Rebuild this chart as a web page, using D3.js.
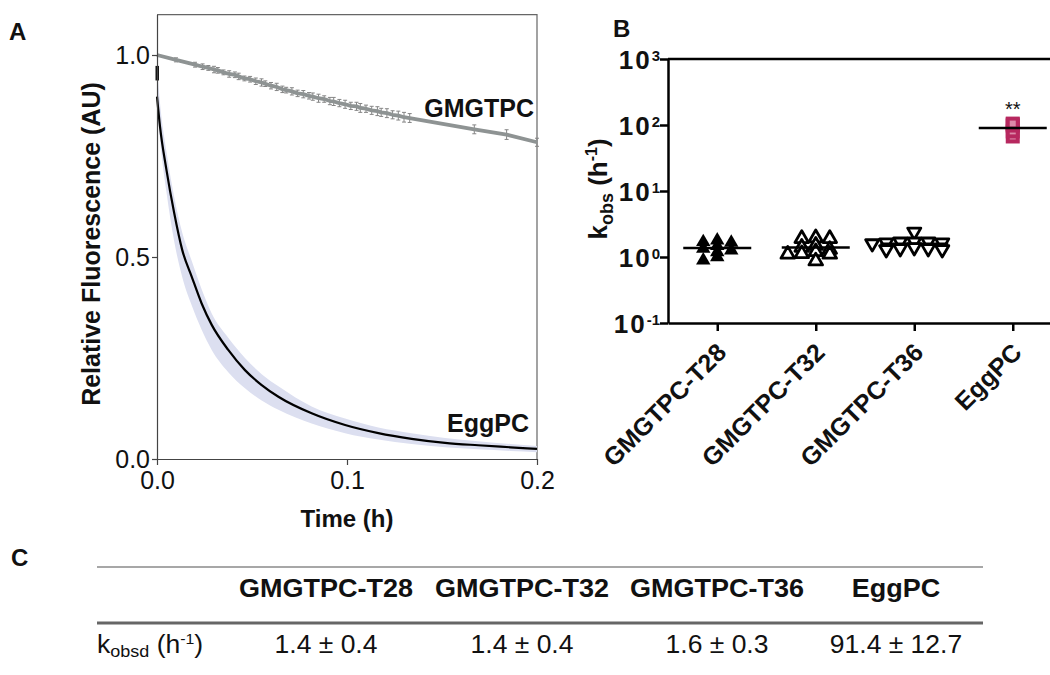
<!DOCTYPE html>
<html><head><meta charset="utf-8">
<script src="https://cdn.jsdelivr.net/npm/d3@7"></script>
<style>
body{margin:0;background:#fff;}
svg text{font-family:"Liberation Sans", Arial, Helvetica, sans-serif;fill:#111;}
</style></head><body>
<svg id="chart" width="1050" height="675"></svg>
<script>
// ---------- Panel A data ----------
const gmgTime  = [0, 0.010, 0.020, 0.024, 0.027, 0.030, 0.032, 0.035, 0.038, 0.041, 0.043, 0.046, 0.049, 0.052, 0.055, 0.057, 0.060, 0.063, 0.066, 0.068, 0.071, 0.074, 0.077, 0.080, 0.082, 0.085, 0.088, 0.091, 0.093, 0.096, 0.099, 0.102, 0.105, 0.107, 0.110, 0.113, 0.116, 0.118, 0.121, 0.124, 0.127, 0.130, 0.133, 0.167, 0.184, 0.200];
const gmgValue = [1.000, 0.988, 0.976, 0.971, 0.968, 0.964, 0.962, 0.957, 0.953, 0.951, 0.947, 0.942, 0.940, 0.935, 0.932, 0.929, 0.924, 0.921, 0.915, 0.913, 0.910, 0.905, 0.903, 0.899, 0.897, 0.893, 0.891, 0.886, 0.885, 0.881, 0.878, 0.874, 0.873, 0.869, 0.867, 0.863, 0.861, 0.858, 0.856, 0.852, 0.850, 0.846, 0.844, 0.816, 0.803, 0.784];
const gmgError = [0, 0.005, 0.006, 0.007, 0.006, 0.008, 0.007, 0.006, 0.008, 0.007, 0.008, 0.006, 0.007, 0.008, 0.009, 0.007, 0.008, 0.009, 0.008, 0.007, 0.009, 0.008, 0.009, 0.008, 0.009, 0.010, 0.008, 0.009, 0.010, 0.009, 0.010, 0.009, 0.010, 0.011, 0.009, 0.010, 0.011, 0.010, 0.011, 0.010, 0.011, 0.012, 0.011, 0.011, 0.012, 0.010];

const eggTime  = [0, 0.0016, 0.0050, 0.0090, 0.0133, 0.0183, 0.0235, 0.0288, 0.0375, 0.0463, 0.0551, 0.0639, 0.0814, 0.0990, 0.1165, 0.1340, 0.1516, 0.1690, 0.1860, 0.2000];
const eggValue = [0.897, 0.822, 0.715, 0.610, 0.517, 0.451, 0.385, 0.332, 0.270, 0.220, 0.183, 0.154, 0.113, 0.084, 0.064, 0.050, 0.040, 0.034, 0.029, 0.025];
const eggLower = [0.880, 0.790, 0.660, 0.540, 0.450, 0.380, 0.320, 0.270, 0.215, 0.175, 0.145, 0.122, 0.088, 0.064, 0.048, 0.037, 0.029, 0.024, 0.020, 0.017];
const eggUpper = [0.970, 0.880, 0.760, 0.650, 0.560, 0.490, 0.420, 0.360, 0.300, 0.250, 0.210, 0.180, 0.130, 0.100, 0.078, 0.064, 0.052, 0.044, 0.037, 0.032];
const eggStartValue = [0.955];
const eggStartError = [0.018];

const aXTicks = [0, 0.1, 0.2];
const aYTicks = [0, 0.5, 1.0];

// ---------- Panel B data ----------
const categories = ["GMGTPC-T28", "GMGTPC-T32", "GMGTPC-T36", "EggPC"];
const kT28 = [1.69, 1.65, 1.79, 1.47, 1.19, 0.89, 1.00, 1.26, 1.34];
const kT32 = [1.90, 1.90, 1.95, 1.10, 1.12, 1.10, 0.87, 1.40, 1.30, 1.50, 1.20];
const kT36 = [2.40, 1.70, 1.65, 1.60, 1.70, 1.65, 1.70, 1.35, 1.30, 1.35, 1.30, 1.40];
const kEgg = [105, 102, 98, 80, 67];
const bYTicks = [0.1, 1, 10, 100, 1000];
const bYExponents = ["-1", "0", "1", "2", "3"];
const significance = ["", "", "", "**"];

// ---------- Panel C data ----------
const tableMeans = ["1.4", "1.4", "1.6", "91.4"];
const tableSDs = ["0.4", "0.4", "0.3", "12.7"];

// =====================================================
const svg = d3.select("#chart");

function panelLabel(t, x, y) {
  svg.append("text").attr("x", x).attr("y", y).attr("font-size", 24).attr("font-weight", "bold").text(t);
}
panelLabel("A", 9, 40);
panelLabel("B", 613, 37);
panelLabel("C", 11, 566);

// ---------- Panel A ----------
const ax = d3.scaleLinear().domain([0, 0.2]).range([157, 537]);
const ay = d3.scaleLinear().domain([0, 1.1]).range([459, 14.6]);
const gA = svg.append("g");

gA.append("path")
  .attr("d", `M${ax(0)},${ay(1.1)}H${ax(0.2)}V${ay(0)}`)
  .attr("fill", "none").attr("stroke", "#666").attr("stroke-width", 1.2);

const eggRows = eggTime.map((t, i) => ({t, v: eggValue[i], lo: eggLower[i], hi: eggUpper[i]}));
gA.append("path").datum(eggRows)
  .attr("d", d3.area().x(d => ax(d.t)).y0(d => ay(d.lo)).y1(d => ay(d.hi)).curve(d3.curveMonotoneX))
  .attr("fill", "#dcdff0");
gA.append("path").datum(eggRows)
  .attr("d", d3.line().x(d => ax(d.t)).y(d => ay(d.v)).curve(d3.curveMonotoneX))
  .attr("fill", "none").attr("stroke", "#000").attr("stroke-width", 2.2);

eggStartValue.forEach((v, i) => {
  gA.append("rect")
    .attr("x", ax(0) - 1.5).attr("width", 3.5)
    .attr("y", ay(v + eggStartError[i])).attr("height", ay(v - eggStartError[i]) - ay(v + eggStartError[i]))
    .attr("fill", "#111");
});

const gmgRows = gmgTime.map((t, i) => ({t, v: gmgValue[i], e: gmgError[i]}));
const eb = gA.append("g").attr("stroke", "#858585").attr("stroke-width", 1);
gmgRows.filter(d => d.e > 0).forEach(d => {
  const x = ax(d.t), y1 = ay(d.v + d.e), y2 = ay(d.v - d.e);
  eb.append("path").attr("d", `M${x},${y1}V${y2}M${x - 2},${y1}H${x + 2}M${x - 2},${y2}H${x + 2}`);
});
gA.append("path").datum(gmgRows)
  .attr("d", d3.line().x(d => ax(d.t)).y(d => ay(d.v)))
  .attr("fill", "none").attr("stroke", "#8e9393").attr("stroke-width", 3.8).attr("stroke-linejoin", "round");

const xAxisA = gA.append("g").attr("transform", `translate(0,${ay(0)})`)
  .call(d3.axisBottom(ax).tickValues(aXTicks).tickFormat(d3.format(".1f")).tickSize(6).tickSizeOuter(0).tickPadding(6));
const yAxisA = gA.append("g").attr("transform", `translate(${ax(0)},0)`)
  .call(d3.axisLeft(ay).tickValues(aYTicks).tickFormat(d3.format(".1f")).tickSize(5).tickSizeOuter(0).tickPadding(2));
[xAxisA, yAxisA].forEach(g => {
  g.selectAll("path,line").attr("stroke", "#444").attr("stroke-width", 1.2);
  g.selectAll("text").attr("font-size", 25).attr("fill", "#111").attr("font-family", null);
});

gA.append("text").attr("x", 534).attr("y", 117).attr("text-anchor", "end")
  .attr("font-size", 25).attr("font-weight", "bold").text("GMGTPC");
gA.append("text").attr("x", 529).attr("y", 432).attr("text-anchor", "end")
  .attr("font-size", 25).attr("font-weight", "bold").text("EggPC");
gA.append("text").attr("x", ax(0.1)).attr("y", 527).attr("text-anchor", "middle")
  .attr("font-size", 24).attr("font-weight", "bold").text("Time (h)");
gA.append("text").attr("transform", "translate(100,244) rotate(-90)").attr("text-anchor", "middle")
  .attr("font-size", 25).attr("font-weight", "bold").text("Relative Fluorescence (AU)");

// ---------- Panel B ----------
const bx = d3.scalePoint().domain(categories).range([668, 1062]).padding(0.5);
const by = d3.scaleLog().domain([0.1, 1000]).range([323, 59]);
const gB = svg.append("g");

gB.append("path").attr("d", `M${bx.range()[0]},${by(1000)}H${bx.range()[1]}`)
  .attr("stroke", "#000").attr("stroke-width", 2.5);

const yAxisB = gB.append("g").attr("transform", `translate(668,0)`)
  .call(d3.axisLeft(by).tickValues(bYTicks).tickFormat("").tickSize(8).tickSizeOuter(0).tickPadding(7));
yAxisB.selectAll("path,line").attr("stroke", "#000").attr("stroke-width", 2.5);
yAxisB.selectAll(".tick text").each(function(d, i) {
  const t = d3.select(this).attr("font-family", null).attr("dy", null).attr("y", 9).attr("x", -8)
    .attr("text-anchor", "end").attr("font-size", 26).attr("font-weight", "bold").attr("fill", "#111");
  t.append("tspan").attr("letter-spacing", 2).text("10");
  t.append("tspan").attr("font-size", 15).attr("dx", 0).attr("dy", -8).text(bYExponents[i]);
});

const xAxisB = gB.append("g").attr("transform", `translate(0,323)`)
  .call(d3.axisBottom(bx).tickSize(8).tickSizeOuter(0));
xAxisB.selectAll("path,line").attr("stroke", "#000").attr("stroke-width", 2.5);
xAxisB.selectAll(".tick text")
  .attr("font-family", null).attr("x", 0).attr("y", 0).attr("dy", null)
  .attr("text-anchor", "end").attr("transform", "translate(10,31) rotate(-45)")
  .attr("font-size", 25).attr("font-weight", "bold").attr("fill", "#111");

// beeswarm placement
function swarm(values, cx) {
  const placed = [];
  const order = values.map((v, i) => i).sort((a, b) => values[b] - values[a]);
  const step = 7;
  order.forEach(i => {
    const y = by(values[i]);
    for (let k = 0; k < 40; k++) {
      const off = (k % 2 ? -1 : 1) * Math.ceil(k / 2) * step;
      const x = cx + off;
      if (!placed.some(p => Math.abs(p.x - x) < 13 && Math.abs(p.y - y) < 4.5)) {
        placed.push({x, y, v: values[i]}); break;
      }
    }
  });
  return placed;
}

const groups = [
  {cat: categories[0], vals: kT28, type: "triFilled"},
  {cat: categories[1], vals: kT32, type: "triOpen"},
  {cat: categories[2], vals: kT36, type: "triDown"},
  {cat: categories[3], vals: kEgg, type: "square"}
];
const tri = d3.symbol().type(d3.symbolTriangle);
groups.forEach((g, gi) => {
  const cx = bx(g.cat);
  const mean = d3.mean(g.vals);
  const layer = gB.append("g");
  if (g.type === "square") {
    const pts = g.vals.map(v => ({x: cx, y: by(v), v})).sort((a, b) => a.v - b.v);
    pts.forEach(p => {
      layer.append("rect").attr("x", p.x - 5).attr("y", p.y - 5).attr("width", 10).attr("height", 10)
        .attr("fill", "#dc8aa9").attr("stroke", "#b7285f").attr("stroke-width", 4);
    });
  } else {
    const pts = swarm(g.vals, cx);
    pts.forEach(p => {
      const path = layer.append("path");
      if (g.type === "triFilled") {
        path.attr("d", tri.size(90)()).attr("transform", `translate(${p.x},${p.y})`).attr("fill", "#000");
      } else if (g.type === "triOpen") {
        path.attr("d", tri.size(80)()).attr("transform", `translate(${p.x},${p.y})`)
          .attr("fill", "#fff").attr("stroke", "#000").attr("stroke-width", 2.8).attr("stroke-linejoin", "round");
      } else {
        path.attr("d", tri.size(75)()).attr("transform", `translate(${p.x},${p.y}) rotate(180)`)
          .attr("fill", "#fff").attr("stroke", "#000").attr("stroke-width", 2.8).attr("stroke-linejoin", "round");
      }
    });
  }
  gB.append("path").attr("d", `M${cx - 34},${by(mean)}H${cx + 34}`)
    .attr("stroke", "#000").attr("stroke-width", 2.5);
  if (significance[gi]) {
    gB.append("text").attr("x", cx).attr("y", by(d3.max(g.vals)) - 8).attr("text-anchor", "middle")
      .attr("font-size", 20).text(significance[gi]);
  }
});

gB.append("text").attr("transform", "translate(607,189) rotate(-90)").attr("text-anchor", "middle")
  .attr("font-size", 26).attr("font-weight", "bold")
  .call(t => {
    t.append("tspan").text("k");
    t.append("tspan").attr("font-size", 18).attr("dy", 6).text("obs");
    t.append("tspan").attr("dy", -6).text(" (h");
    t.append("tspan").attr("font-size", 16).attr("dy", -10).text("-1");
    t.append("tspan").attr("dy", 10).text(")");
  });

// ---------- Panel C (table) ----------
const tx = d3.scaleOrdinal().domain(categories).range([326, 522, 717, 896]);
const gC = svg.append("g");
gC.append("path").attr("d", "M97,567H983").attr("stroke", "#8a8a8a").attr("stroke-width", 1.5);
gC.append("path").attr("d", "M97,623H983").attr("stroke", "#666").attr("stroke-width", 3);
categories.forEach((c, i) => {
  gC.append("text").attr("transform", `translate(${tx(c)},597) scale(1.08,1)`).attr("text-anchor", "middle")
    .attr("font-size", 25).attr("font-weight", "bold").text(c);
  gC.append("text").attr("transform", `translate(${tx(c)},653) scale(1.06,1)`).attr("text-anchor", "middle")
    .attr("font-size", 25).text(`${tableMeans[i]} \u00b1 ${tableSDs[i]}`);
});
gC.append("text").attr("transform", "translate(97,653) scale(1.06,1)").attr("font-size", 25)
  .call(t => {
    t.append("tspan").text("k");
    t.append("tspan").attr("font-size", 17).attr("dy", 4).text("obsd");
    t.append("tspan").attr("dy", -4).text(" (h");
    t.append("tspan").attr("font-size", 15).attr("dy", -9).text("-1");
    t.append("tspan").attr("dy", 9).text(")");
  });
</script>
</body></html>
